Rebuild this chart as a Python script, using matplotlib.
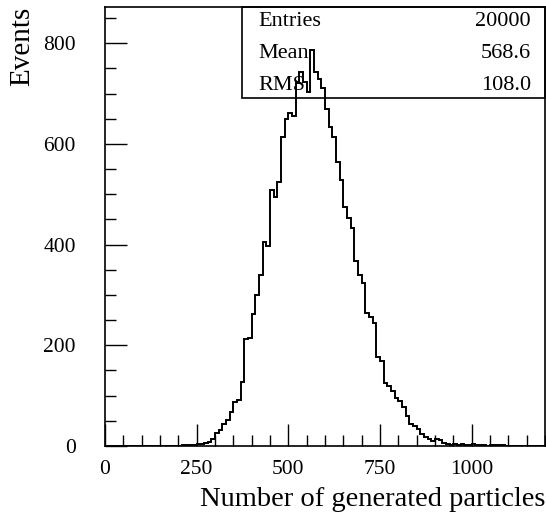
import numpy as np
import matplotlib
matplotlib.use("Agg")
import matplotlib.pyplot as plt
from matplotlib.ticker import MultipleLocator
from matplotlib.patches import Rectangle

plt.rcParams['font.family'] = ['Liberation Serif', 'DejaVu Serif']

# histogram: 120 bins of width 10 from 0 to 1200
bin_width = 10
x_min, x_max = 0, 1200
counts = [0] * 20 + [
    0, 1, 1, 2, 1, 3, 3, 5, 8, 13,                  # 200-290
    26, 31, 43, 52, 68, 88, 92, 127, 213, 214,      # 300-390
    263, 299, 340, 405, 397, 508, 495, 525, 613, 650,  # 400-490
    661, 655, 722, 742, 723, 703, 786, 742, 729, 712,  # 500-590
    670, 634, 614, 565, 528, 474, 452, 433, 368, 340,  # 600-690
    324, 264, 256, 244, 176, 169, 126, 119, 109, 96,   # 700-790
    90, 78, 60, 44, 40, 33, 23, 18, 13, 9,             # 800-890
    14, 12, 6, 3, 2, 4, 2, 4, 1, 2,                    # 900-990
    4, 2, 1, 1, 0, 2, 2, 1, 1, 0,                      # 1000-1090
    0, 0, 0, 0, 0, 0, 0, 0, 0, 0,                      # 1100-1190
]
stat_names = ["Entries", "Mean", "RMS"]
stat_values = ["20000", "568.6", "108.0"]

edges = np.arange(x_min, x_max + bin_width, bin_width)

fig = plt.figure(figsize=(5.46, 5.22), dpi=100)
ax = fig.add_axes([0.1923, 0.1456, 0.8057, 0.841])

ax.stairs(counts, edges, color="black", lw=1.4, zorder=3)

ax.set_xlim(x_min, x_max)
ax.set_ylim(0, 872)

ax.xaxis.set_major_locator(MultipleLocator(250))
ax.xaxis.set_minor_locator(MultipleLocator(50))
ax.yaxis.set_major_locator(MultipleLocator(200))
ax.yaxis.set_minor_locator(MultipleLocator(50))
ax.tick_params(which='both', direction='in', top=False, right=False,
               width=1.0, labelsize=15.5)
ax.tick_params(which='major', length=16)
ax.tick_params(which='minor', length=8)
ax.tick_params(axis='y', which='major', pad=21)
ax.tick_params(axis='x', which='major', pad=10)
for s in ax.spines.values():
    s.set_linewidth(1.2)

ax.set_xlabel("Number of generated particles", fontsize=20.5, loc='right')
ax.xaxis.set_label_coords(1.0, -0.094)
ax.set_ylabel("Events", fontsize=21, loc='top')
ax.yaxis.set_label_coords(-0.158, 1.0)

# stats box
ax.add_patch(Rectangle((0.311, 0.793), 0.689, 0.207, transform=ax.transAxes,
                       fill=False, ec="black", lw=1.2, zorder=2, clip_on=False))
for i, (n, v) in enumerate(zip(stat_names, stat_values)):
    yy = 0.966 - i * 0.072
    ax.text(0.348, yy, n, transform=ax.transAxes, ha='left', va='center', fontsize=16)
    ax.text(0.968, yy, v, transform=ax.transAxes, ha='right', va='center', fontsize=16)

fig.savefig("out.png", dpi=100)
